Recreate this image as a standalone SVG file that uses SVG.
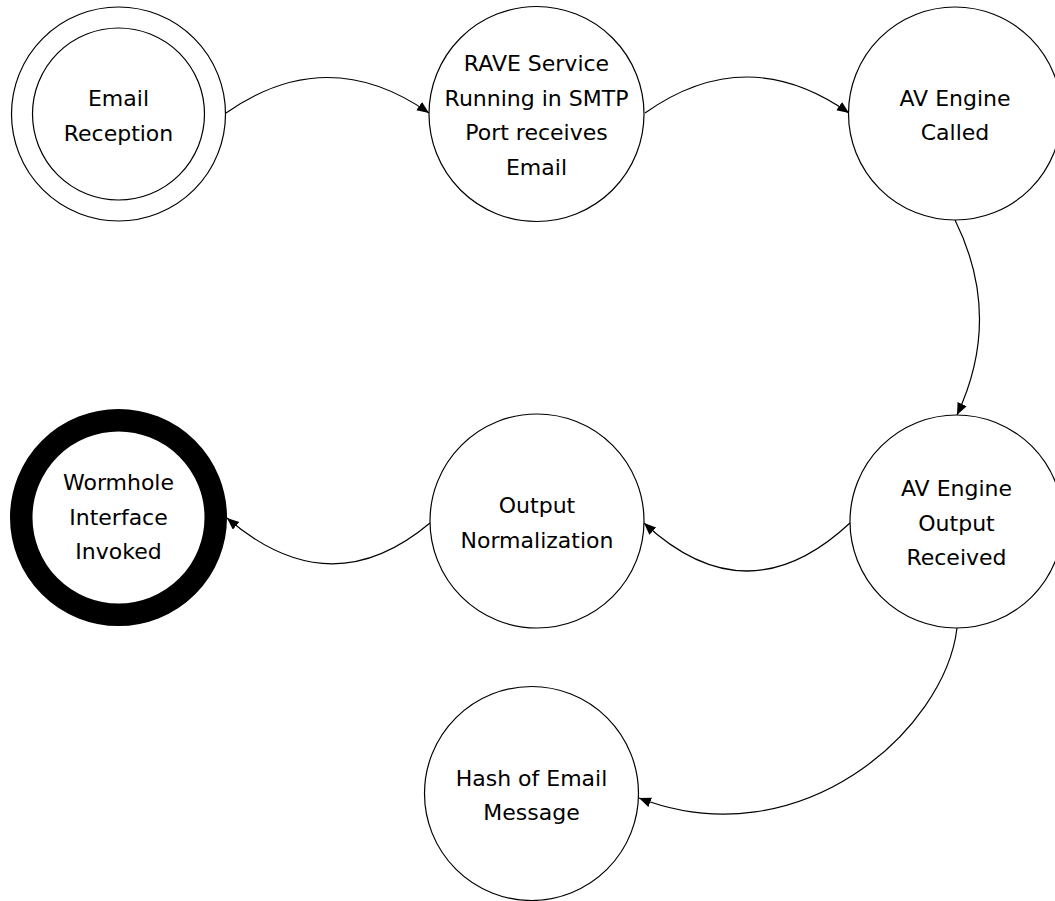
<svg xmlns="http://www.w3.org/2000/svg" width="1055" height="901" viewBox="0 0 1055 901">
  <style>
    .state { fill: #ffffff; stroke: #000000; stroke-width: 1.2; }
    .final { fill: #ffffff; stroke: #000000; stroke-width: 22.5; }
    .label { font-family: "DejaVu Sans", "Liberation Sans", sans-serif; font-size: 22px; fill: #000000; text-anchor: middle; }
    .edge { fill: none; stroke: #000000; stroke-width: 1.2; marker-end: url(#arrow); }
  </style>
  <defs>
    <marker id="arrow" markerUnits="userSpaceOnUse" markerWidth="13" markerHeight="11" refX="12" refY="5" orient="auto">
      <path d="M0,0 L12,5 L0,10 z" fill="#000000"/>
    </marker>
  </defs>
  <rect width="1055" height="901" fill="#ffffff"/>

  <g id="connectors">
    <path class="edge" d="M226,113 Q327.5,42 429,113"/>
    <path class="edge" d="M645,113 Q747,41 849,113"/>
    <path class="edge" d="M955,220 Q1003,317 957,415"/>
    <path class="edge" d="M850,523 Q747,619 644,523"/>
    <path class="edge" d="M430,523 Q330,607 227,518"/>
    <path class="edge" d="M957,628 C945,730 800,860 639,798"/>
  </g>

  <g id="email-reception">
    <circle class="state" cx="118.5" cy="114" r="107"/>
    <circle class="state" cx="118.5" cy="114" r="86"/>
    <text class="label" x="118.5" y="106">Email</text>
    <text class="label" x="118.5" y="140.5">Reception</text>
  </g>

  <g id="rave-service">
    <circle class="state" cx="536.5" cy="114" r="107.5"/>
    <text class="label" x="536.5" y="71">RAVE Service</text>
    <text class="label" x="536.5" y="105.5">Running in SMTP</text>
    <text class="label" x="536.5" y="140">Port receives</text>
    <text class="label" x="536.5" y="174.5">Email</text>
  </g>

  <g id="av-engine-called">
    <circle class="state" cx="955" cy="113.5" r="106.5"/>
    <text class="label" x="955" y="105.5">AV Engine</text>
    <text class="label" x="955" y="140">Called</text>
  </g>

  <g id="av-engine-output">
    <circle class="state" cx="956.5" cy="521.5" r="106.5"/>
    <text class="label" x="956.5" y="496">AV Engine</text>
    <text class="label" x="956.5" y="530.5">Output</text>
    <text class="label" x="956.5" y="565">Received</text>
  </g>

  <g id="output-normalization">
    <circle class="state" cx="537" cy="521" r="107"/>
    <text class="label" x="537" y="513">Output</text>
    <text class="label" x="537" y="547.5">Normalization</text>
  </g>

  <g id="wormhole-interface">
    <circle class="final" cx="118.5" cy="517.5" r="97.25"/>
    <text class="label" x="118.5" y="490">Wormhole</text>
    <text class="label" x="118.5" y="524.5">Interface</text>
    <text class="label" x="118.5" y="559">Invoked</text>
  </g>

  <g id="hash-of-email">
    <circle class="state" cx="531.5" cy="793.5" r="107"/>
    <text class="label" x="531.5" y="785.5">Hash of Email</text>
    <text class="label" x="531.5" y="820">Message</text>
  </g>
</svg>
